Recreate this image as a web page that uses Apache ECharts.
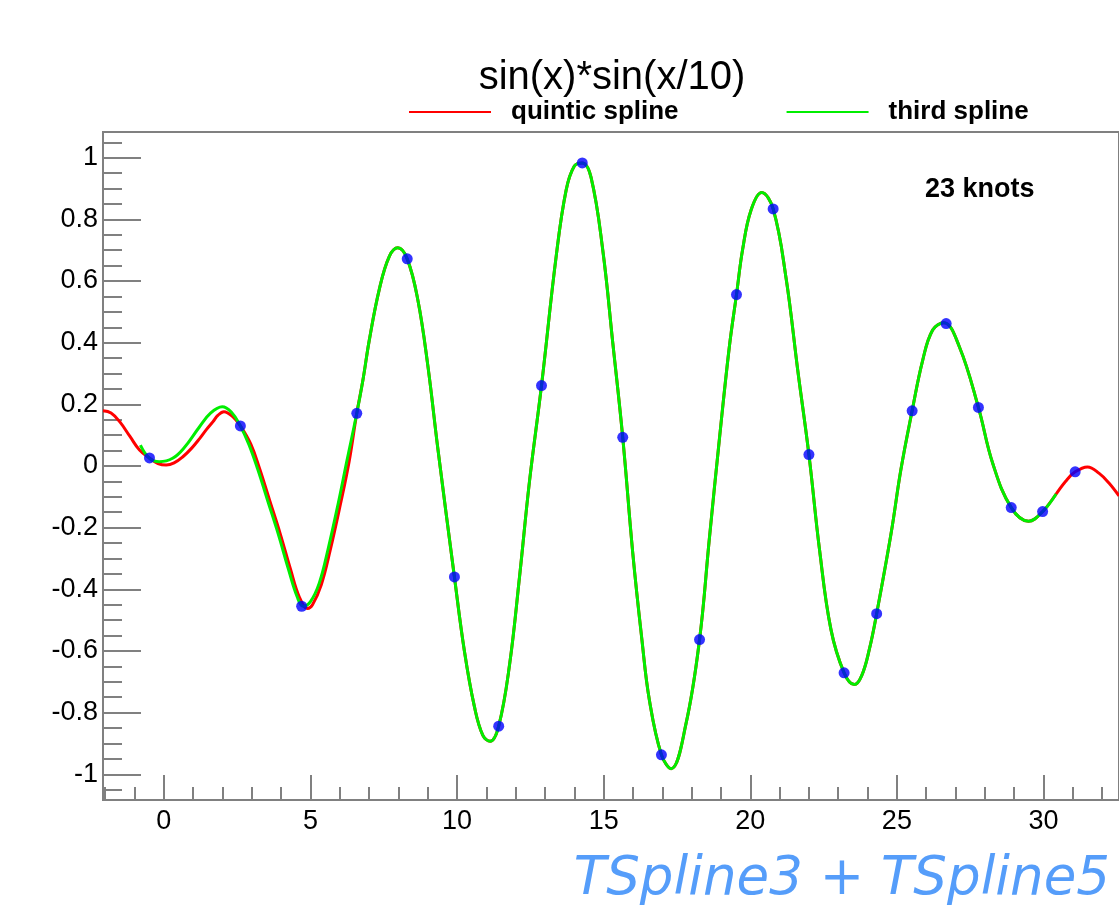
<!DOCTYPE html>
<html>
<head>
<meta charset="utf-8">
<script src="https://cdn.jsdelivr.net/npm/echarts@6/dist/echarts.min.js"></script>
<style>
  html, body { margin: 0; padding: 0; background: #fff; }
  #chart { width: 1119px; height: 910px; }
</style>
</head>
<body>
<div id="chart"></div>
<script>
// knots (blue points)
const knotX = [-0.49, 2.61, 4.70, 6.58, 8.30, 9.91, 11.42, 12.88, 14.27, 15.65, 16.97, 18.27,
  19.53, 20.78, 22.00, 23.20, 24.31, 25.52, 26.68, 27.78, 28.90, 29.97, 31.08];
const knotY = [0.026, 0.130, -0.455, 0.171, 0.672, -0.360, -0.844, 0.261, 0.983, 0.093, -0.937, -0.563,
  0.556, 0.834, 0.037, -0.671, -0.479, 0.179, 0.462, 0.190, -0.135, -0.148, -0.019];

// quintic spline (red)
const quinticX = [-2.075, -1.8, -1.5, -1.15, -0.83, -0.49, -0.2, 0.08, 0.35, 0.65, 0.95, 1.22, 1.45, 1.67, 1.85,
  2.05, 2.35, 2.61, 2.97, 3.27, 3.62, 3.97, 4.32, 4.62, 4.9, 5.07, 5.37, 5.67, 6.02, 6.32, 6.58, 6.79, 7.01, 7.35,
  7.69, 7.98, 8.3, 8.66, 9.0, 9.34, 9.91, 10.25, 10.59, 10.88, 11.13, 11.42, 11.79, 12.13, 12.47, 12.88,
  13.38, 13.72, 14.0, 14.27, 14.57, 14.97, 15.31, 15.65, 15.99, 16.3, 16.56, 16.97, 17.3, 17.81, 18.27,
  18.6, 18.95, 19.29, 19.53, 19.74, 20.03, 20.39, 20.78, 21.22, 21.62, 22.0, 22.36, 22.75, 23.2, 23.55,
  23.8, 24.06, 24.31, 24.8, 25.14, 25.52, 25.88, 26.22, 26.6, 27.13, 27.78, 28.27, 28.9, 29.49, 29.97, 30.43,
  30.75, 31.08, 31.5, 31.9, 32.24, 32.575];
const quinticY = [0.179, 0.172, 0.143, 0.095, 0.052, 0.026, 0.008, 0.003, 0.01, 0.03, 0.058, 0.089, 0.118, 0.143, 0.165,
  0.176, 0.16, 0.13, 0.07, -0.01, -0.115, -0.22, -0.335, -0.425, -0.462, -0.45, -0.385, -0.275, -0.125, 0.015, 0.171, 0.279, 0.41, 0.574,
  0.68, 0.708, 0.672, 0.54, 0.328, 0.06, -0.36, -0.6, -0.78, -0.874, -0.893, -0.844, -0.645, -0.36, -0.05, 0.261,
  0.68, 0.895, 0.973, 0.983, 0.936, 0.70, 0.40, 0.093, -0.28, -0.56, -0.76, -0.937, -0.982, -0.835, -0.563,
  -0.24, 0.09, 0.39, 0.556, 0.703, 0.831, 0.887, 0.834, 0.61, 0.31, 0.037, -0.27, -0.53, -0.671, -0.709,
  -0.68, -0.595, -0.479, -0.22, -0.01, 0.179, 0.343, 0.441, 0.465, 0.387, 0.19, 0.008, -0.135, -0.179, -0.148, -0.091,
  -0.05, -0.019, -0.003, -0.024, -0.056, -0.097];

// third (cubic) spline (green)
const cubicX = [-0.8, -0.49, -0.15, 0.3, 0.7, 1.2, 1.6, 1.99, 2.3, 2.61, 2.9, 3.2, 3.55, 3.9, 4.25, 4.55, 4.75,
  5.0, 5.3, 5.6, 5.95, 6.25, 6.58, 6.79, 7.01, 7.35, 7.69, 7.98, 8.3, 8.66, 9.0, 9.34, 9.91, 10.25, 10.59,
  10.88, 11.13, 11.42, 11.79, 12.13, 12.47, 12.88, 13.38, 13.72, 14.0, 14.27, 14.57, 14.97, 15.31, 15.65,
  15.99, 16.3, 16.56, 16.97, 17.3, 17.81, 18.27, 18.6, 18.95, 19.29, 19.53, 19.74, 20.03, 20.39, 20.78,
  21.22, 21.62, 22.0, 22.36, 22.75, 23.2, 23.55, 23.8, 24.06, 24.31, 24.8, 25.14, 25.52, 25.88, 26.22, 26.6,
  27.13, 27.78, 28.27, 28.9, 29.49, 29.97, 30.43];
const cubicY = [0.068, 0.025, 0.014, 0.025, 0.06, 0.125, 0.172, 0.192, 0.175, 0.130, 0.07, -0.01, -0.115, -0.22, -0.335, -0.425, -0.455,
  -0.44, -0.38, -0.27, -0.12, 0.02, 0.171, 0.279, 0.41, 0.574, 0.68, 0.708, 0.672, 0.54, 0.328, 0.06, -0.36, -0.6, -0.78,
  -0.874, -0.893, -0.844, -0.645, -0.36, -0.05, 0.261, 0.68, 0.895, 0.973, 0.983, 0.936, 0.70, 0.40, 0.093,
  -0.28, -0.56, -0.76, -0.937, -0.982, -0.835, -0.563, -0.24, 0.09, 0.39, 0.556, 0.703, 0.831, 0.887, 0.834,
  0.61, 0.31, 0.037, -0.27, -0.53, -0.671, -0.709, -0.68, -0.595, -0.479, -0.22, -0.01, 0.179, 0.343, 0.441, 0.465,
  0.387, 0.19, 0.008, -0.135, -0.179, -0.148, -0.091];

// tick labels
const yMajorTicks = [-1, -0.8, -0.6, -0.4, -0.2, 0, 0.2, 0.4, 0.6, 0.8, 1];
const xMajorTicks = [0, 5, 10, 15, 20, 25, 30];

const xMin = -2.075, xMax = 32.575;
const yMin = -1.0835, yMax = 1.0835;

const yMinorTicks = [];
for (let i = -21; i <= 21; i++) yMinorTicks.push(+(i * 0.05).toFixed(2));
const xMinorTicks = [];
for (let i = -2; i <= 32; i++) xMinorTicks.push(i);

const pairs = (xs, ys) => xs.map((x, i) => [x, ys[i]]);

const axisGray = '#808080';
const font = '"Liberation Sans", Arial, sans-serif';

const chart = echarts.init(document.getElementById('chart'));
const option = {
  animation: false,
  grid: {
    left: 103, right: 0, top: 132, bottom: 110,
    show: true, borderColor: axisGray, borderWidth: 2, backgroundColor: 'transparent'
  },
  legend: {
    data: ['quintic spline', 'third spline'],
    left: 409, top: 99, padding: 0,
    icon: 'rect', itemWidth: 82, itemHeight: 2, itemGap: 108,
    textStyle: { fontFamily: font, fontWeight: 'bold', fontSize: 26, color: '#000', padding: [0, 0, 0, 15] },
    selectedMode: false
  },
  xAxis: [{
    type: 'value', min: xMin, max: xMax,
    axisLine: { onZero: false, lineStyle: { color: axisGray, width: 2 } },
    axisTick: { inside: true, length: 25, customValues: xMajorTicks, lineStyle: { color: axisGray, width: 2 } },
    axisLabel: { customValues: xMajorTicks, fontFamily: font, fontSize: 27, color: '#000', margin: 8 },
    splitLine: { show: false }
  }, {
    type: 'value', min: xMin, max: xMax, position: 'bottom',
    axisLine: { show: false, onZero: false },
    axisTick: { inside: true, length: 13, customValues: xMinorTicks, lineStyle: { color: axisGray, width: 2 } },
    axisLabel: { show: false },
    splitLine: { show: false }
  }],
  yAxis: [{
    type: 'value', min: yMin, max: yMax,
    axisLine: { show: true, onZero: false, lineStyle: { color: axisGray, width: 2 } },
    axisTick: { show: true, inside: true, length: 38, customValues: yMajorTicks, lineStyle: { color: axisGray, width: 2 } },
    axisLabel: { customValues: yMajorTicks, fontFamily: font, fontSize: 27, color: '#000', margin: 5 },
    splitLine: { show: false }
  }, {
    type: 'value', min: yMin, max: yMax, position: 'left',
    axisLine: { show: false, onZero: false },
    axisTick: { show: true, inside: true, length: 19, customValues: yMinorTicks, lineStyle: { color: axisGray, width: 2 } },
    axisLabel: { show: false },
    splitLine: { show: false }
  }],
  series: [{
    name: 'quintic spline', type: 'line', data: pairs(quinticX, quinticY),
    smooth: 0.4, showSymbol: false, symbol: 'none',
    lineStyle: { color: '#ff0000', width: 3 }, itemStyle: { color: '#ff0000' }, z: 2
  }, {
    name: 'third spline', type: 'line', data: pairs(cubicX, cubicY),
    smooth: 0.4, showSymbol: false, symbol: 'none',
    lineStyle: { color: '#00ee00', width: 3 }, itemStyle: { color: '#00ee00' }, z: 3
  }, {
    name: 'knots', type: 'scatter', data: pairs(knotX, knotY),
    symbol: 'circle', symbolSize: 11, itemStyle: { color: '#0000ff' }, z: 4
  }],
  graphic: [{
    type: 'text', x: 612, y: 78,
    style: { text: 'sin(x)*sin(x/10)', font: '40px ' + font, fill: '#000', textAlign: 'center', textVerticalAlign: 'middle' }
  }, {
    type: 'text', x: 925, y: 190,
    style: { text: '23 knots', font: 'bold 27px ' + font, fill: '#000', textAlign: 'left', textVerticalAlign: 'middle' }
  }, {
    type: 'text', x: 1110, y: 880,
    style: { text: 'TSpline3 + TSpline5', font: 'italic 53px "DejaVu Sans", sans-serif', fill: '#559dfa', textAlign: 'right', textVerticalAlign: 'middle' }
  }]
};
chart.setOption(option);
</script>
</body>
</html>
